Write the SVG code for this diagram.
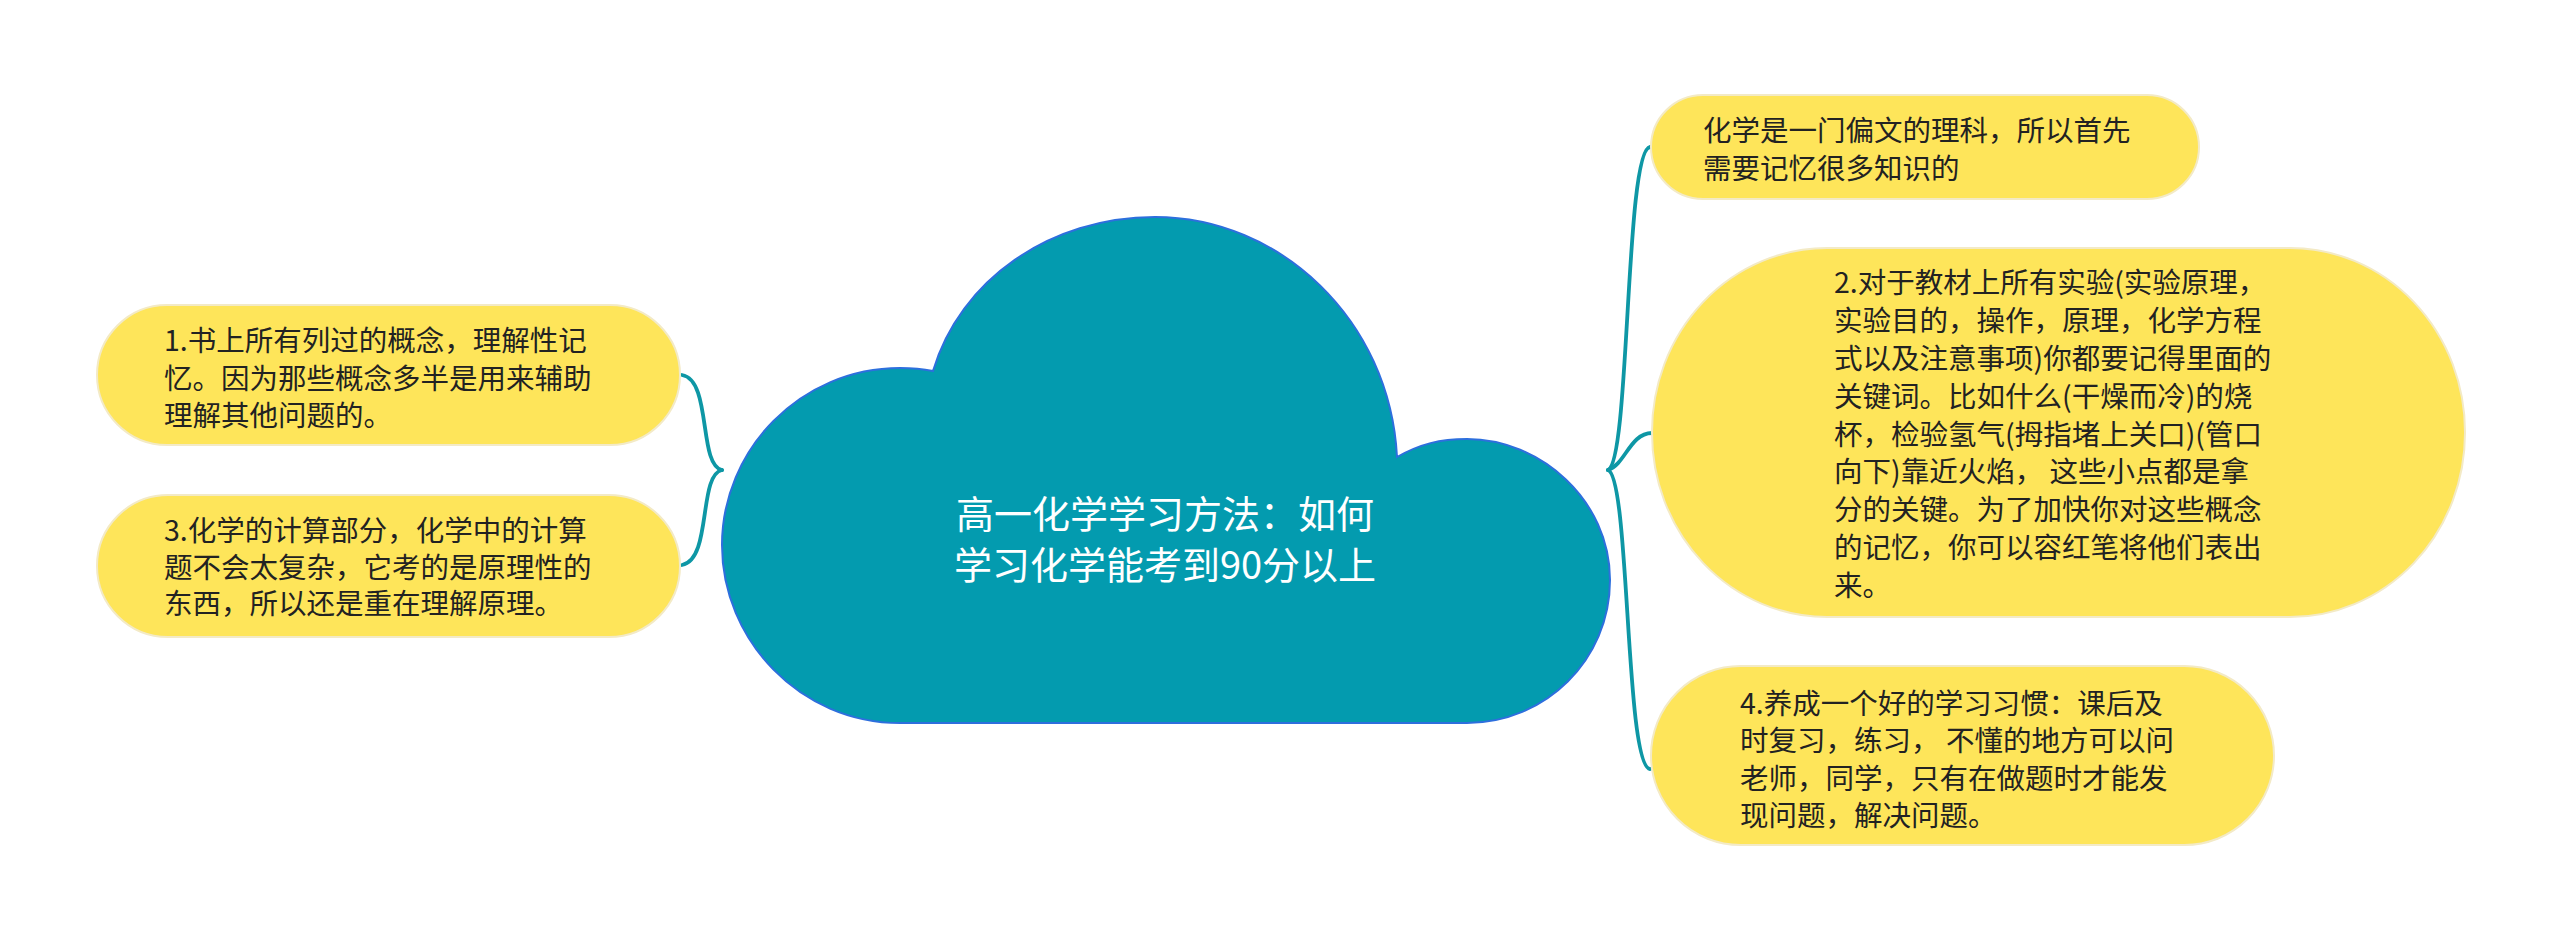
<svg xmlns="http://www.w3.org/2000/svg" width="2560" height="941" viewBox="0 0 2560 941">
<style>
.pill{fill:#FEE55A;stroke:#F3EAC6;stroke-width:2}
.t{font-family:"Noto Sans CJK SC","Noto Sans",sans-serif;font-size:28.5px;fill:#222222}
.ct{font-family:"Noto Sans CJK SC","Noto Sans",sans-serif;font-size:38px;fill:#FFFFFF;text-anchor:middle}
.c{fill:none;stroke:#0E97A5;stroke-width:3.8;stroke-linecap:round}
</style>
<rect width="2560" height="941" fill="#FFFFFF"/>
<g id="connectors">
<path class="c" d="M682,375 C712,380 698,465 722,470"/>
<path class="c" d="M682,565 C712,560 698,475 722,470"/>
<path class="c" d="M1650,147 C1625,150 1630,462 1608,470"/>
<path class="c" d="M1608,470 C1625,465 1630,433 1652,433"/>
<path class="c" d="M1608,470 C1630,478 1625,766 1650,769"/>
</g>
<g id="center">
<path d="M933,371 C960,280 1050,217 1155,217 C1280,217 1390,320 1397,457 C1420,444 1440,439 1467,439 C1540,439 1610,500 1610,580 C1610,660 1545,723 1467,723 L900,723 C800,723 722,640 722,545 C722,450 800,368 900,368 C912,368 923,369 933,371 Z" fill="#039BAF" stroke="#2D6FDD" stroke-width="2"/>
<text class="ct" x="1165" y="528">高一化学学习方法：如何</text>
<text class="ct" x="1165" y="579">学习化学能考到90分以上</text>
</g>
<g id="node-l1">
<rect class="pill" x="97" y="305" width="583" height="140" rx="70"/>
<text class="t" x="164" y="351">1.书上所有列过的概念，理解性记</text>
<text class="t" x="164" y="389">忆。因为那些概念多半是用来辅助</text>
<text class="t" x="164" y="426">理解其他问题的。</text>
</g>
<g id="node-l3">
<rect class="pill" x="97" y="495" width="583" height="142" rx="71"/>
<text class="t" x="164" y="541">3.化学的计算部分，化学中的计算</text>
<text class="t" x="164" y="578">题不会太复杂，它考的是原理性的</text>
<text class="t" x="164" y="614">东西，所以还是重在理解原理。</text>
</g>
<g id="node-r1">
<rect class="pill" x="1651" y="95" width="548" height="104" rx="52"/>
<text class="t" x="1703" y="141">化学是一门偏文的理科，所以首先</text>
<text class="t" x="1703" y="179">需要记忆很多知识的</text>
</g>
<g id="node-r2">
<rect class="pill" x="1652" y="248" width="813" height="369" rx="175" ry="184"/>
<text class="t" x="1834" y="293">2.对于教材上所有实验(实验原理，</text>
<text class="t" x="1834" y="331">实验目的，操作，原理，化学方程</text>
<text class="t" x="1834" y="369">式以及注意事项)你都要记得里面的</text>
<text class="t" x="1834" y="407">关键词。比如什么(干燥而冷)的烧</text>
<text class="t" x="1834" y="445">杯，检验氢气(拇指堵上关口)(管口</text>
<text class="t" x="1834" y="482">向下)靠近火焰， 这些小点都是拿</text>
<text class="t" x="1834" y="520">分的关键。为了加快你对这些概念</text>
<text class="t" x="1834" y="558">的记忆，你可以容红笔将他们表出</text>
<text class="t" x="1834" y="596">来。</text>
</g>
<g id="node-r4">
<rect class="pill" x="1651" y="666" width="623" height="179" rx="89.5"/>
<text class="t" x="1740" y="714">4.养成一个好的学习习惯：课后及</text>
<text class="t" x="1740" y="751">时复习，练习， 不懂的地方可以问</text>
<text class="t" x="1740" y="789">老师，同学，只有在做题时才能发</text>
<text class="t" x="1740" y="826">现问题，解决问题。</text>
</g>
</svg>
